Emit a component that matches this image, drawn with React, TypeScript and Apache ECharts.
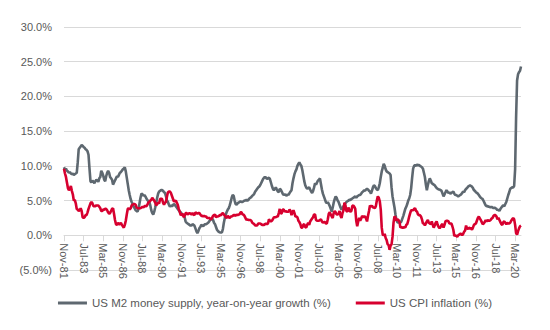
import React, { useEffect, useRef } from "react";
import * as echarts from "echarts";

// Monthly series, Nov-1981 .. Sep-2020
const START_YEAR = 1981;
const START_MONTH = 10; // 0-based: November
const MONTH_NAMES = ["Jan", "Feb", "Mar", "Apr", "May", "Jun", "Jul", "Aug", "Sep", "Oct", "Nov", "Dec"];

const m2Growth: number[] = [
  9.8, 9.4,
  9.6, 9.3, 9.2, 9.0, 9.1, 8.9, 8.8, 8.9, 8.7, 8.8, 8.9, 9.0,
  10.5, 12.4, 12.6, 12.8, 13.0, 12.9, 12.7, 12.6, 12.4, 12.3, 12.1, 11.6,
  9.6, 7.8, 7.6, 7.9, 7.7, 7.5, 7.8, 8.0, 7.9, 7.7, 8.2, 8.4,
  9.3, 9.0, 8.6, 8.0, 7.8, 8.5, 9.0, 9.3, 9.0, 8.4, 8.2, 8.0,
  7.3, 7.6, 7.9, 8.2, 8.5, 8.4, 8.7, 9.0, 9.1, 9.3, 9.5, 9.6,
  9.8, 9.2, 8.3, 7.4, 6.5, 5.8, 5.2, 4.8, 4.5, 4.1, 3.9, 3.6,
  3.5, 3.4, 3.8, 4.6, 5.4, 6.0, 5.9, 5.7, 5.8, 5.6, 5.3, 5.1,
  4.9, 4.8, 4.3, 3.6, 3.2, 3.0, 3.4, 4.0, 4.7, 5.4, 6.0, 6.3,
  6.4, 6.5, 6.5, 6.4, 6.2, 6.1, 5.6, 5.0, 4.8, 4.4, 4.1, 4.3,
  4.2, 4.3, 4.5, 4.4, 4.2, 4.0, 3.8, 3.6, 3.4, 3.3, 3.1, 3.0,
  2.9, 2.6, 2.0, 1.8, 1.7, 1.6, 1.5, 1.4, 1.4, 1.6, 1.5, 1.4,
  1.0, 0.6, 0.3, 0.6, 1.0, 1.2, 1.5, 1.4, 1.3, 1.5, 1.6, 1.6,
  1.7, 1.8, 2.0, 2.2, 2.3, 2.4, 2.2, 1.8, 1.6, 1.2, 0.8, 0.6,
  0.5, 0.4, 0.4, 0.4, 0.9, 1.8, 2.5, 3.0, 3.4, 3.7, 3.9, 4.3,
  4.8, 5.4, 5.8, 5.7, 5.0, 4.5, 4.4, 4.6, 4.7, 4.8, 4.9, 4.8,
  4.8, 4.9, 5.0, 5.0, 5.1, 5.0, 5.1, 5.3, 5.4, 5.5, 5.7, 5.8,
  6.0, 6.3, 6.5, 6.7, 6.9, 7.0, 7.2, 7.5, 7.8, 8.1, 8.3, 8.4,
  8.3, 8.1, 8.2, 8.3, 8.1, 7.6, 7.1, 6.7, 6.5, 6.7, 6.9, 6.6,
  6.3, 6.2, 6.7, 6.6, 6.3, 6.0, 5.8, 5.9, 5.8, 5.7, 5.9, 5.8,
  6.1, 6.3, 6.5, 7.5, 8.2, 8.8, 9.2, 9.5, 10.0, 10.3, 10.5, 10.2,
  10.0, 9.4, 8.6, 7.8, 7.2, 6.9, 6.7, 6.8, 6.9, 6.6, 6.3, 6.1,
  6.4, 6.9, 7.5, 7.3, 7.6, 7.9, 8.0, 8.2, 7.4, 6.6, 6.0, 5.6,
  5.2, 4.8, 4.6, 4.8, 4.5, 4.2, 3.8, 3.4, 4.0, 4.7, 5.2, 5.6,
  5.4, 5.0, 4.8, 4.4, 4.0, 3.7, 3.9, 4.2, 4.4, 4.6, 4.8, 4.9,
  5.0, 5.1, 5.1, 5.2, 5.3, 5.4, 5.5, 5.6, 5.4, 5.6, 5.7, 5.8,
  5.8, 6.0, 6.2, 6.3, 6.5, 6.4, 6.6, 6.7, 6.6, 6.4, 6.3, 6.0,
  6.4, 6.9, 7.2, 7.1, 6.8, 6.6, 6.5, 6.9, 7.5, 8.4, 9.2, 9.7,
  10.3, 10.0, 9.5, 9.2, 9.1, 9.0, 8.9, 8.7, 6.9, 5.6, 4.8, 4.0,
  3.0, 2.2, 1.9, 1.8, 1.9, 1.8, 2.0, 2.4, 2.8, 3.3, 3.8, 4.1,
  4.5, 5.0, 5.3, 5.8, 6.8, 8.3, 9.6, 10.0, 10.1, 10.0, 10.2, 10.1,
  10.1, 10.0, 9.9, 9.8, 9.6, 9.0, 8.4, 7.3, 6.5, 7.2, 7.8, 8.2,
  7.9, 7.5, 7.4, 7.3, 7.2, 7.0, 6.8, 6.7, 6.6, 6.6, 6.5, 6.4,
  6.0, 5.6, 5.9, 6.2, 6.5, 6.3, 6.1, 6.2, 6.0, 6.1, 6.2, 6.3,
  6.0, 5.8, 5.8, 5.7, 5.6, 5.7, 5.8, 5.9, 6.1, 6.3, 6.2, 6.5,
  6.7, 6.8, 7.0, 7.1, 7.2, 7.1, 7.0, 6.8, 6.5, 6.4, 6.2, 6.1,
  6.0, 5.8, 5.6, 5.4, 5.3, 5.2, 4.9, 4.6, 4.3, 4.2, 4.2, 4.1,
  4.1, 4.0, 4.1, 4.0, 3.9, 4.0, 3.9, 3.8, 3.6, 3.7, 3.5, 3.8,
  4.0, 4.2, 4.3, 4.2, 4.5, 4.8, 5.3, 5.8, 6.2, 6.7, 6.8, 6.9,
  6.9, 7.1, 9.5, 17.0, 22.3, 23.2, 23.5, 23.7, 24.3,
];

const cpiInflation: number[] = [
  9.6, 8.9,
  8.4, 7.6, 6.8, 6.5, 6.7, 7.1, 6.4, 5.9, 5.0, 5.1, 4.6, 3.8,
  3.7, 3.5, 3.6, 3.9, 3.5, 2.6, 2.5, 2.6, 2.9, 2.9, 3.3, 3.8,
  4.2, 4.6, 4.8, 4.6, 4.2, 4.2, 4.2, 4.3, 4.3, 4.3, 4.1, 3.9,
  3.5, 3.5, 3.7, 3.7, 3.8, 3.8, 3.6, 3.3, 3.1, 3.2, 3.5, 3.8,
  3.9, 3.1, 2.2, 1.6, 1.5, 1.8, 1.6, 1.6, 1.8, 1.5, 1.3, 1.1,
  1.5, 2.1, 3.0, 3.8, 3.9, 3.7, 3.9, 4.3, 4.4, 4.5, 4.5, 4.4,
  4.0, 3.9, 3.9, 3.9, 3.9, 4.0, 4.1, 4.0, 4.2, 4.2, 4.2, 4.4,
  4.7, 4.8, 5.0, 5.1, 5.4, 5.2, 5.0, 4.7, 4.3, 4.5, 4.7, 4.6,
  5.2, 5.3, 5.2, 4.7, 4.4, 4.7, 4.8, 5.6, 6.2, 6.3, 6.3, 6.1,
  5.7, 5.3, 4.9, 4.9, 5.0, 4.7, 4.4, 3.8, 3.4, 2.9, 3.0, 3.1,
  2.6, 2.8, 3.2, 3.2, 3.0, 3.1, 3.2, 3.1, 3.0, 3.2, 3.0, 2.9,
  3.3, 3.2, 3.1, 3.2, 3.2, 3.0, 2.8, 2.8, 2.7, 2.8, 2.7, 2.7,
  2.5, 2.5, 2.5, 2.4, 2.3, 2.5, 2.8, 2.9, 3.0, 2.6, 2.7, 2.7,
  2.8, 2.9, 2.9, 3.1, 3.2, 3.0, 2.8, 2.6, 2.5, 2.8, 2.6, 2.5,
  2.7, 2.7, 2.8, 2.9, 2.9, 2.8, 3.0, 2.9, 3.0, 3.0, 3.3, 3.3,
  3.0, 3.0, 2.8, 2.5, 2.2, 2.3, 2.2, 2.2, 2.2, 2.1, 1.8, 1.7,
  1.6, 1.4, 1.4, 1.4, 1.7, 1.7, 1.7, 1.6, 1.5, 1.5, 1.5, 1.6,
  1.7, 1.6, 1.7, 2.3, 2.1, 2.0, 2.1, 2.3, 2.6, 2.6, 2.6, 2.7,
  2.7, 3.2, 3.8, 3.1, 3.2, 3.7, 3.7, 3.4, 3.5, 3.4, 3.4, 3.4,
  3.7, 3.5, 2.9, 3.3, 3.6, 3.2, 2.7, 2.7, 2.6, 2.1, 1.9, 1.6,
  1.1, 1.1, 1.5, 1.6, 1.2, 1.1, 1.5, 1.8, 1.5, 2.0, 2.2, 2.4,
  2.6, 3.0, 3.0, 2.2, 2.1, 2.1, 2.1, 2.2, 2.3, 2.0, 1.8, 1.9,
  1.9, 1.7, 1.7, 2.3, 3.1, 3.3, 3.0, 2.7, 2.5, 3.2, 3.5, 3.3,
  3.0, 3.0, 3.1, 3.5, 2.8, 2.5, 3.2, 3.6, 4.7, 4.3, 3.5, 3.4,
  4.0, 3.6, 3.4, 3.5, 4.2, 4.3, 4.1, 3.8, 2.1, 1.3, 2.0, 2.5,
  2.1, 2.4, 2.8, 2.6, 2.7, 2.7, 2.4, 2.0, 2.8, 3.5, 4.3, 4.1,
  4.3, 4.0, 4.0, 3.9, 4.2, 5.0, 5.6, 5.4, 4.9, 3.7, 1.1, 0.1,
  0.0, 0.2, -0.4, -0.7, -1.3, -1.4, -2.1, -1.5, -1.3, -0.2, 1.8, 2.7,
  2.6, 2.1, 2.3, 2.2, 2.0, 1.1, 1.2, 1.1, 1.1, 1.2, 1.1, 1.5,
  1.6, 2.1, 2.7, 3.2, 3.6, 3.6, 3.6, 3.8, 3.9, 3.5, 3.4, 3.0,
  2.9, 2.9, 2.7, 2.3, 1.7, 1.7, 1.4, 1.7, 2.0, 2.2, 1.8, 1.7,
  1.6, 2.0, 1.5, 1.1, 1.4, 1.8, 2.0, 1.5, 1.2, 1.0, 1.2, 1.5,
  1.6, 1.1, 1.5, 2.0, 2.1, 2.1, 2.0, 1.7, 1.7, 1.7, 1.3, 0.8,
  -0.1, 0.0, -0.1, -0.2, 0.0, 0.1, 0.2, 0.2, 0.0, 0.2, 0.5, 0.7,
  1.4, 1.0, 0.9, 1.1, 1.0, 1.0, 0.8, 1.1, 1.5, 1.6, 1.7, 2.1,
  2.5, 2.7, 2.4, 2.2, 1.9, 1.6, 1.7, 1.9, 2.2, 2.0, 2.2, 2.1,
  2.1, 2.2, 2.4, 2.5, 2.8, 2.9, 2.9, 2.7, 2.3, 2.5, 2.2, 1.9,
  1.6, 1.5, 1.9, 2.0, 1.8, 1.6, 1.8, 1.7, 1.7, 1.8, 2.1, 2.3,
  2.5, 2.3, 1.5, 0.3, 0.1, 0.6, 1.0, 1.3, 1.4,
];

const seriesNames = [
  "US M2 money supply, year-on-year growth (%)",
  "US CPI inflation (%)",
];

const categories: string[] = m2Growth.map((_, i) => {
  const t = START_MONTH + i;
  const y = START_YEAR + Math.floor(t / 12);
  const m = t % 12;
  return `${MONTH_NAMES[m]}-${String(y % 100).padStart(2, "0")}`;
});

const TEXT = "#595959";
const GRID = "#D9D9D9";
const FONT = "Liberation Sans";
const Y_MIN = -5;
const Y_MAX = 30;
const GRID_TOP = 27;
const GRID_BOTTOM = 60;
const CHART_H = 330;
// move the category axis up from the grid bottom to the zero line
const zeroOffset = -((0 - Y_MIN) / (Y_MAX - Y_MIN)) * (CHART_H - GRID_TOP - GRID_BOTTOM);

export default function App() {
  const ref = useRef<HTMLDivElement>(null);
  useEffect(() => {
    if (!ref.current) return;
    const chart = echarts.init(ref.current, undefined, { renderer: "svg" });
    chart.setOption({
      animation: false,
      backgroundColor: "#ffffff",
      textStyle: { fontFamily: FONT },
      grid: { left: 64, right: 29, top: GRID_TOP, bottom: GRID_BOTTOM, containLabel: false },
      legend: {
        left: "center",
        top: 296,
        icon: "rect",
        itemWidth: 29,
        itemHeight: 3,
        itemGap: 25,
        padding: 0,
        textStyle: { color: TEXT, fontSize: 11.5, fontFamily: FONT, lineHeight: 14 },
        data: seriesNames,
      },
      xAxis: {
        type: "category",
        data: categories,
        boundaryGap: false,
        offset: zeroOffset,
        axisLine: { onZero: false, lineStyle: { color: GRID, width: 1 } },
        axisTick: { show: true, interval: 19, length: 6, lineStyle: { color: GRID } },
        axisLabel: {
          interval: 19,
          rotate: -90,
          margin: 8,
          color: TEXT,
          fontSize: 11,
          fontFamily: FONT,
        },
        splitLine: { show: false },
      },
      yAxis: {
        type: "value",
        min: Y_MIN,
        max: Y_MAX,
        interval: 5,
        axisLine: { show: false },
        axisTick: { show: false },
        axisLabel: {
          color: TEXT,
          fontSize: 11,
          fontFamily: FONT,
          margin: 12,
          formatter: (v: number) =>
            v < 0 ? `(${Math.abs(v).toFixed(1)}%)` : `${v.toFixed(1)}%`,
        },
        splitLine: { lineStyle: { color: GRID, width: 1 } },
      },
      series: [
        {
          name: seriesNames[0],
          type: "line",
          data: m2Growth,
          symbol: "none",
          showSymbol: false,
          lineStyle: { color: "#5E6870", width: 2.6 },
          itemStyle: { color: "#5E6870" },
        },
        {
          name: seriesNames[1],
          type: "line",
          data: cpiInflation,
          symbol: "none",
          showSymbol: false,
          lineStyle: { color: "#D7002F", width: 2.6 },
          itemStyle: { color: "#D7002F" },
        },
      ],
    });
    return () => chart.dispose();
  }, []);
  return (
    <div
      ref={ref}
      style={{ position: "fixed", left: 0, top: 0, width: 550, height: 330 }}
    />
  );
}
